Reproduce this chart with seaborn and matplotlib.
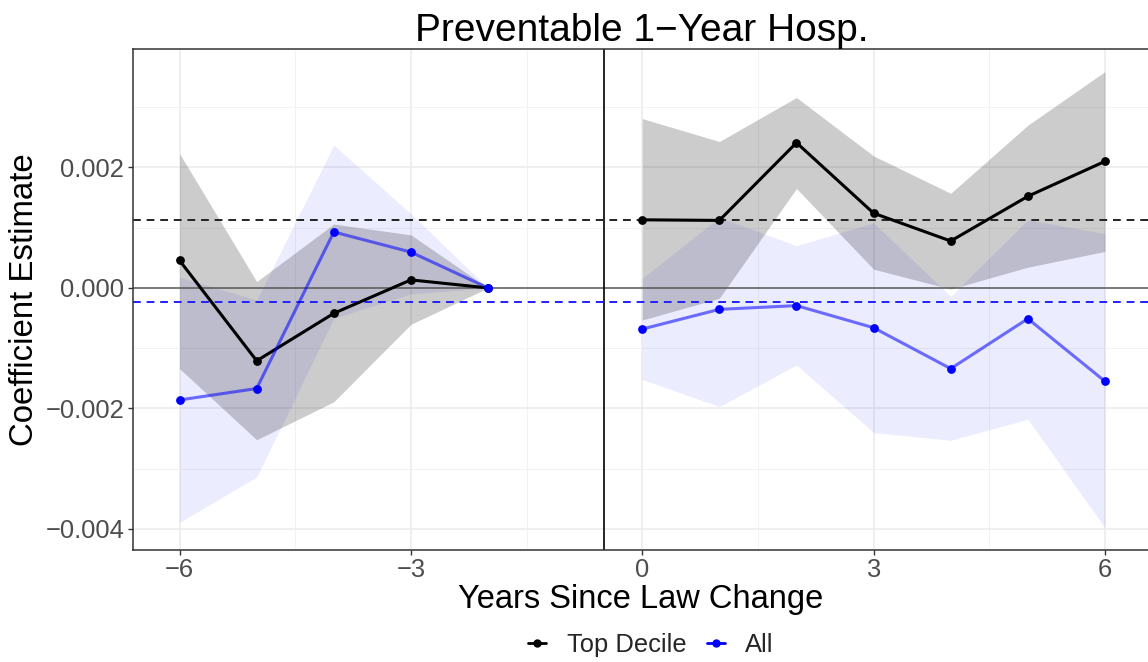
import numpy as np
import pandas as pd
import matplotlib
matplotlib.use("Agg")
import matplotlib.pyplot as plt
from matplotlib.lines import Line2D
from matplotlib.ticker import FixedLocator, FuncFormatter
import seaborn as sns

# Event-study estimates (years -1 omitted; -2 is the reference year)
years = [-6, -5, -4, -3, -2, 0, 1, 2, 3, 4, 5, 6]

top_coef = [0.000455, -0.00121, -0.000422, 0.000133, 0.0,
            0.00113, 0.00112, 0.00241, 0.00124, 0.000778, 0.00152, 0.00210]
top_lo = [-0.00134, -0.00252, -0.00189, -0.000605, 0.0,
          -0.000533, -0.000172, 0.00165, 0.000311, -0.00002, 0.000344, 0.000605]
top_hi = [0.00223, 0.000105, 0.00106, 0.00088, 0.0,
          0.00281, 0.00243, 0.00316, 0.00219, 0.00157, 0.00270, 0.00359]

all_coef = [-0.00186, -0.00167, 0.000928, 0.000594, 0.0,
            -0.000683, -0.000356, -0.000294, -0.000661, -0.00134, -0.000511, -0.00155]
all_lo = [-0.00389, -0.00314, -0.000505, -0.0001, 0.0,
          -0.00152, -0.00197, -0.00128, -0.00240, -0.00253, -0.00218, -0.00398]
all_hi = [0.000177, -0.0002, 0.00237, 0.00123, 0.0,
          0.000161, 0.00117, 0.00070, 0.00108, -0.00014, 0.00113, 0.00090]

# Average post-period effects shown as dashed reference lines
top_ref = 0.00113
all_ref = -0.00023

series_names = ["Top Decile", "All"]
x_ticks = [-6, -3, 0, 3, 6]
y_ticks = [-0.004, -0.002, 0.0, 0.002]

sns.set_theme(style="white")
plt.rcParams["font.family"] = ["Liberation Sans", "DejaVu Sans"]
plt.rcParams["axes.unicode_minus"] = True

frames = []
for name, c, lo, hi in [("Top Decile", top_coef, top_lo, top_hi),
                        ("All", all_coef, all_lo, all_hi)]:
    d = pd.DataFrame({"year": years, "coef": c, "lo": lo, "hi": hi})
    d["series"] = name
    d["period"] = np.where(d["year"] < 0, "pre", "post")
    frames.append(d)
df = pd.concat(frames, ignore_index=True)

W, H = 1148, 662
fig = plt.figure(figsize=(W / 100, H / 100), dpi=100)
left, right, top, bottom = 133.3, 1151.2, 49.3, 550.0
ax = fig.add_axes([left / W, 1 - bottom / H, (right - left) / W, (bottom - top) / H])

# Gridlines
ax.set_axisbelow(True)
ax.xaxis.set_major_locator(FixedLocator(x_ticks))
ax.xaxis.set_minor_locator(FixedLocator([-4.5, -1.5, 1.5, 4.5]))
ax.yaxis.set_major_locator(FixedLocator(y_ticks))
ax.yaxis.set_minor_locator(FixedLocator([-0.003, -0.001, 0.001, 0.003]))
ax.grid(which="major", color="#EBEBEB", linewidth=1.1)
ax.grid(which="minor", color="#F2F2F2", linewidth=0.7)

# Confidence ribbons
styles = {
    "All": dict(fill="blue", falpha=0.075, line="blue", lalpha=0.55),
    "Top Decile": dict(fill="black", falpha=0.2, line="black", lalpha=1.0),
}
for name in ["All", "Top Decile"]:
    for per in ["pre", "post"]:
        d = df[(df.series == name) & (df.period == per)]
        ax.fill_between(d["year"], d["lo"], d["hi"], color=styles[name]["fill"],
                        alpha=styles[name]["falpha"], linewidth=0)

# Reference lines
ax.axhline(0, color="#5A5A5A", linewidth=1.1, zorder=2)
ax.axvline(-0.5, color="black", linewidth=1.2, zorder=2)
ax.axhline(top_ref, color="#222222", linewidth=1.4, linestyle=(0, (4, 3)), zorder=2)
ax.axhline(all_ref, color="#2020FF", linewidth=1.4, linestyle=(0, (4, 3)), zorder=2)

# Point estimates
for name in ["Top Decile", "All"]:
    st = styles[name]
    for per in ["pre", "post"]:
        d = df[(df.series == name) & (df.period == per)]
        sns.lineplot(data=d, x="year", y="coef", ax=ax, color=st["line"],
                     alpha=st["lalpha"], linewidth=2.2, estimator=None,
                     sort=False, legend=False, zorder=3)
    d = df[df.series == name]
    sns.scatterplot(data=d, x="year", y="coef", ax=ax, color=st["line"],
                    s=40, linewidth=0, legend=False, zorder=4)

ax.set_xlim(-6.6, 6.6)
ax.set_ylim(-0.00435, 0.00396)
ax.set_xlabel("")
ax.set_ylabel("")

ax.xaxis.set_major_formatter(FuncFormatter(lambda v, p: f"{int(v)}".replace("-", "\u2212")))
ax.yaxis.set_major_formatter(FuncFormatter(lambda v, p: f"{v:.3f}".replace("-", "\u2212")))
ax.tick_params(axis="both", which="major", labelsize=18.4, labelcolor="#4D4D4D",
               length=3.5, width=1.0, color="#333333", bottom=True, left=True)
ax.tick_params(axis="x", pad=2)
ax.tick_params(axis="y", pad=3)
ax.tick_params(which="minor", length=0)

for s in ax.spines.values():
    s.set_color("#333333")
    s.set_linewidth(1.1)
    s.set_visible(True)

fig.text(642 / W, 1 - 41 / H, "Preventable 1\u2212Year Hosp.", ha="center",
         va="baseline", fontsize=28, color="black")
fig.text(641 / W, 1 - 608 / H, "Years Since Law Change", ha="center",
         va="baseline", fontsize=23.5, color="black")
fig.text(25 / W, 1 - 300 / H, "Coefficient Estimate", ha="center", va="center",
         rotation=90, fontsize=23.8, color="black")

handles = [Line2D([], [], color="black", marker="o", lw=2, markersize=5),
           Line2D([], [], color="blue", marker="o", lw=2, markersize=5)]
fig.legend(handles, series_names, loc="center", bbox_to_anchor=(651 / W, 1 - 645 / H),
           ncol=2, frameon=False, fontsize=18.4, handlelength=0.7,
           handletextpad=0.8, columnspacing=0.8)

fig.savefig("out.png", dpi=100)
